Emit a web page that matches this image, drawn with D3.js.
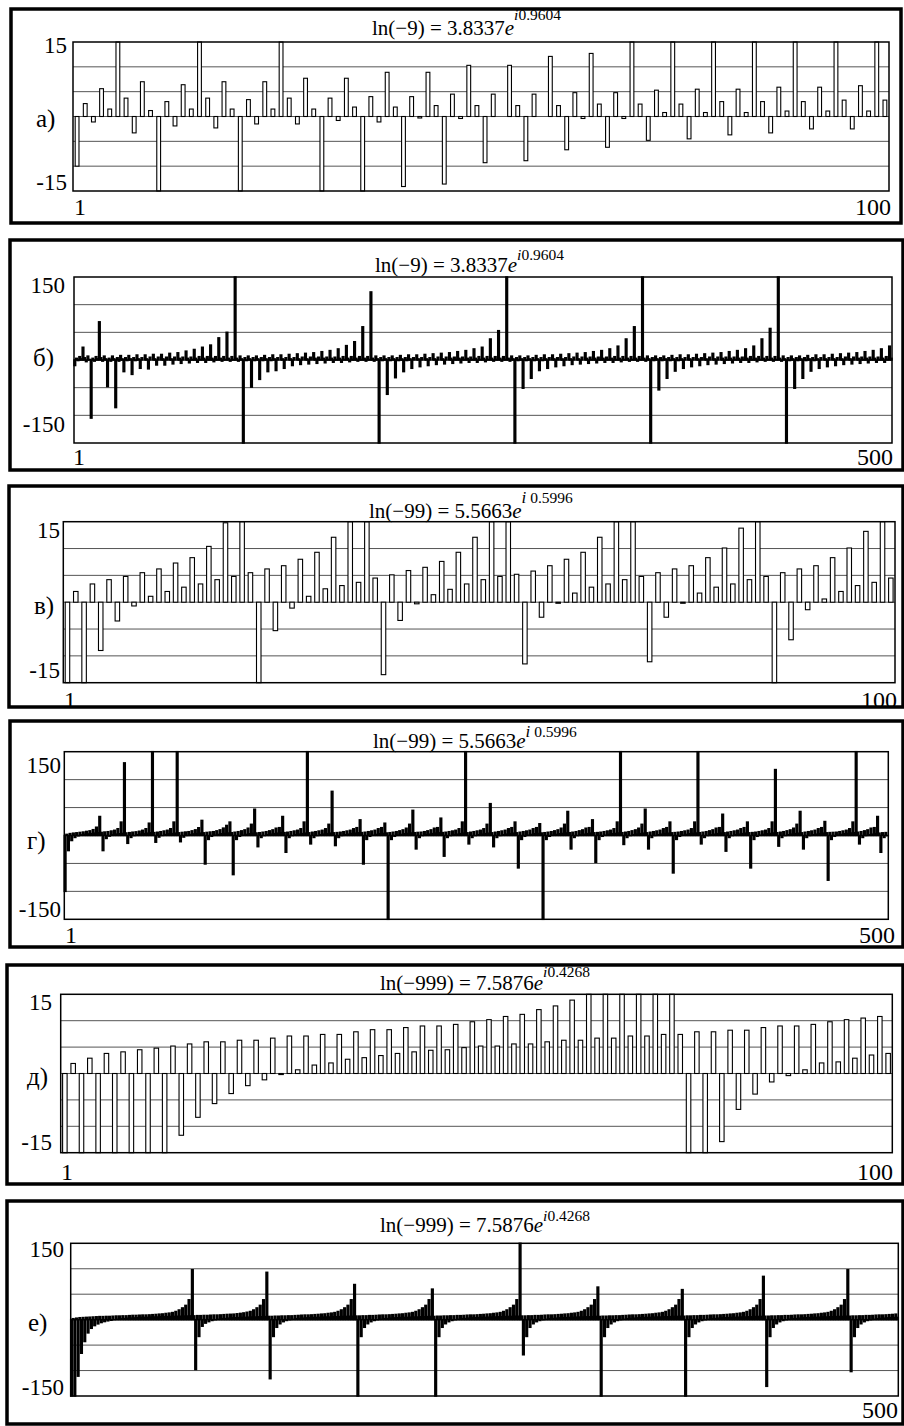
<!DOCTYPE html>
<html>
<head>
<meta charset="utf-8">
<script src="https://d3js.org/d3.v7.min.js"></script>
<style>
  body { margin: 0; background: #fff; }
  svg text { font-family: "Liberation Serif", "Times New Roman", serif; fill: #000; }
</style>
</head>
<body>
<div id="chart"></div>
<script>
// panel captions and formula pieces
const panelLetters = ["а)", "б)", "в)", "г)", "д)", "е)"];
const lnArgs = ["−9", "−9", "−99", "−99", "−999", "−999"];
const moduli = ["3.8337", "3.8337", "5.5663", "5.5663", "7.5876", "7.5876"];
const phases = ["0.9604", "0.9604", "0.5996", "0.5996", "0.4268", "0.4268"];
const yLimits = [15, 150, 15, 150, 15, 150];
const lastIndex = ["100", "500", "100", "500", "100", "500"];
const gridSmall = [-10, -5, 0, 5, 10];
const gridBig = [-100, -50, 0, 50, 100];

// a) first 100 terms, ln(-9)
const valsA = [-10,2.6,-1.1,5.6,1.5, 23,3.7,-3.3,7,1.2, -105,3,-1.9,6.4,1.5, 69,3.7,-2.3,7,1.5,
  -48,3.4,-1.5,7,1.5, 20,3.7,-1.5,7.7,1.5, -21,3.7,-0.8,7.7,1.9, -26,4,-1.1,8.9,1.9,
  -14.1,4,-0.3,8.9,2.2, -13.6,4.5,-0.4,10.3,2.2, -9.3,4.5,0,10.3,2.2, -8.9,4.5,0,12.1,2.2,
  -6.7,4.8,-0.4,12.7,2.5, -6.2,4.8,-0.4,16,2.5, -4.8,5.3,0.8,19,2.5, -4.5,5.5,0.8,23,3,
  -3.7,5.5,0.8,27,3, -3.3,5.9,1.1,40,3, -2.5,5.9,1.1,50,3.3, -2.5,6.2,1.1,200,3.3];

// б) 500 terms, ln(-9)
const valsB = [-10,3,-1,6,2, 23,4,-3,7,1, -105,3,-2,6,2, 69,4,-2,7,2, -48,3,-2,7,2,
  -86,4,-2,8,2, -21,4,-1,8,2, -26,4,-1,9,2, -15,4,0,9,2, -16,5,0,10,2,
  -9,5,0,10,2, -9,5,0,12,2, -7,5,0,13,3, -6,5,0,16,3, -5,5,1,19,3,
  -4,6,1,23,3, -4,6,1,27,3, -3,6,1,40,3, -2,6,1,50,3, -2,6,1,200,3,
  -2,7,2,-200,4, -1,7,2,-49,4, -1,7,2,-35,4, -1,8,2,-21,4, -1,9,2,-19,4,
  0,9,2,-15,4, 0,10,2,-10,4, 0,11,2,-8,5, 0,12,2,-7,5, 0,13,3,-6,5,
  1,15,3,-5,5, 1,17,3,-4,5, 1,20,3,-4,6, 1,26,3,-3,6, 1,33,3,-2,6,
  1,60,3,-2,6, 1,123,3,-2,7, 2,-200,4,-1,7, 2,-62,4,-1,7, 2,-32,4,-1,8,
  2,-21,4,-1,9, 2,-15,4,0,9, 2,-12,4,0,10, 2,-10,4,0,11, 2,-8,5,0,12,
  2,-7,5,0,13, 3,-6,5,1,15, 3,-5,5,1,17, 3,-4,5,1,20, 3,-4,6,1,23,
  3,-3,6,1,38, 3,-2,6,1,53, 3,-2,6,1,200, 3,-2,7,2,-200, 4,-1,7,2,-51,
  4,-1,7,2,-33, 4,-1,8,2,-19, 4,-1,9,2,-15, 4,0,9,2,-12, 4,0,10,2,-10,
  4,0,11,2,-8, 5,0,12,2,-7, 5,0,13,3,-6, 5,1,15,3,-5, 5,1,17,3,-4,
  5,1,20,3,-4, 6,1,25,3,-3, 6,1,38,3,-2, 6,1,60,3,-2, 6,1,200,3,-2,
  7,2,-200,4,-1, 7,2,-54,4,-1, 7,2,-33,4,-1, 8,2,-20,4,-1, 9,2,-15,4,0,
  9,2,-12,4,0, 10,2,-10,4,0, 11,2,-8,5,0, 12,2,-7,5,0, 13,3,-6,5,1,
  15,3,-5,5,1, 17,3,-4,5,1, 20,3,-4,6,1, 25,3,-3,6,1, 38,3,-2,6,1,
  57,3,-2,6,1, 200,3,-2,7,2, -200,4,-1,7,2, -51,4,-1,7,2, -33,4,-1,8,2,
  -20,4,-1,9,2, -15,4,0,9,2, -12,4,0,10,2, -10,4,0,11,2, -8,5,0,12,2,
  -7,5,0,13,3, -6,5,1,15,3, -5,5,1,17,3, -4,5,1,20,3, -4,6,1,25,3];

// в) first 100 terms, ln(-99)
const valsC = [-100,2,-27,3.4,-9,4.2,-3.5,4.8,-0.7,5.5,
  1.1,6.2,2,7.3,2.8,8.3,3.4,10.4,4.2,14.8,
  4.8,34,5.5,-27,6.2,-5.3,6.8,-1.1,8,1.1,
  9.3,2.5,12.1,3.1,24,3.7,130,4.5,-13.5,5.1,
  -3.4,5.9,-0.3,6.5,1.4,7.6,2.4,9.3,3.4,12.1,
  4.2,22,4.8,200,5.2,-11.5,5.8,-2.8,6.8,-0.2,
  8,1.7,9.3,2.8,12.1,3.4,24,4.2,200,4.8,
  -11.1,5.5,-2.8,6.2,-0.2,6.8,1.7,8.3,2.8,10.1,
  3.4,13.8,4.2,27,4.8,-51,5.5,-7,6.2,-1.4,
  6.8,0.6,8.3,2,10.1,3.1,13.2,3.7,18,4.5];

// г) 500 terms, ln(-99): odd terms 1,3,...,499 and even terms 2,4,...,500
const valsDOdd = [-100,-27,-9,-3.5,-0.7,1.1,2,2.8,3.4,4.2,4.8,5.5,6.2,6.8,8,9.3,12.1,24,130,
  -14,-3.4,-0.3,1.4,2.4,3.4,4.2,4.8,5.2,5.8,6.8,8,9.3,12.1,24,200,
  -11.1,-2.8,-0.2,1.7,2.8,3.4,4.2,4.8,5.5,6.2,6.8,8.3,10.1,13.2,18,24,-70,
  -7,-1.4,0.6,2,3.1,3.7,4.5,5,5.8,6.8,8.3,10,13,14,34,-30,
  -3.5,-0.3,1.4,2.4,3.4,4.2,4.8,5.8,6.8,8,9.3,12,20,79,-18,
  -3.5,-0.3,1.4,2.4,3.4,4.2,4.8,5.2,5.8,6.8,8,9.3,12,14,22,-200,
  -7,-1.4,0.6,2,3.1,3.7,4.5,5,5.5,5.8,6.8,8.3,10,13,14,31,-37,
  -3.5,-0.3,1.4,2.4,3.4,4.2,4.8,5.8,6.8,8,9.3,12,20,57,-20,
  -3.5,-0.3,1.4,2.4,3.4,4.2,4.8,5.8,6.8,8,9.3,12,14,21,-200,
  -7,-1.4,0.6,2,3.1,3.7,4.5,5,5.8,6.8,8.3,10,13,14,28,-48,
  -7,-1.4,0.6,2,3.1,3.7,4.5,5,5.8,6.8,8.3,10,13,20,47,-24,
  -3.5,-0.3,1.4,2.4,3.4,4.2,4.8,5.2,5.8,6.8,8,9.3,12,24,200,-15,
  -3.5,-0.3,1.4,2.4,3.4,4.2,4.8,5.8,6.8,8,9.3,12,14,24,-58,
  -7,-1.4,0.6,2,3.1,3.7,4.5,5,5.8,6.8,8.3,10,13,20,43,-24,
  -3.5,-0.3,1.4,2.4,3.4,4.2,4.8,5.2,5.5,5.8,6.8,8,9.3,12,24,200,-15,
  -3.5,-0.3,1.4,2.4,3.4,4.2,4.8,5.2];
const valsDEven = [2,3.4,4.2,4.8,5.5,6.2,7.3,8.3,10.4,14.8,34,-27,
  -5.3,-1.1,1.1,2.5,3.1,3.7,4.5,5.1,5.9,6.5,7.6,9.3,12.1,22,200,-12,
  -2.8,-0.2,1.7,2.8,3.4,4.2,4.8,5.5,6.2,6.8,8.3,10.1,13.8,27,-51,
  -7,-1.4,0.6,2,3.1,3.7,4.5,5,5.8,6.8,8.3,10,13,20,47,-20,
  -3.5,-0.3,1.4,2.4,3.4,4.2,4.8,5.2,5.8,6.8,8,9.3,12,24,200,-15,
  -3.5,-0.3,1.4,2.4,3.4,4.2,4.8,5.2,5.8,6.8,8,9.3,12,14,28,-51,
  -7,-1.4,0.6,2,3.1,3.7,4.5,5,5.8,6.8,8.3,10,13,20,45,-24,
  -3.5,-0.3,1.4,2.4,3.4,4.2,4.8,5.2,5.8,6.8,8,9.3,12,24,200,-15,
  -3.5,-0.3,1.4,2.4,3.4,4.2,4.8,5.8,6.8,8,9.3,12,14,24,-58,
  -7,-1.4,0.6,2,3.1,3.7,4.5,5,5.8,6.8,8.3,10,13,20,43,-24,
  -3.5,-0.3,1.4,2.4,3.4,4.2,4.8,5.2,5.8,6.8,8,9.3,12,24,200,-16,
  -3.5,-0.3,1.4,2.4,3.4,4.2,4.8,5.8,6.8,8,9.3,12,14,24,-67,
  -7,-1.4,0.6,2,3.1,3.7,4.5,5,5.8,6.8,8.3,10,13,14,38,-28,
  -3.5,-0.3,1.4,2.4,3.4,4.2,4.8,5.2,5.8,6.8,8,9.3,12,24,118,-19,
  -3.5,-0.3,1.4,2.4,3.4,4.2,4.8,5.8,6.8,8,9.3,12,14,25,-80,
  -7,-1.4,0.6,2,3.1,3.7,4.5,5,5.8,6.8,8.3,10,13,14,34,-30,
  -3.5,-0.3];

// д) first 100 terms, ln(-999)
const valsE = [-200,1.9,-160,2.9,-111,3.8,-66,4.1,-43,4.5,
  -26,4.8,-17,5.2,-11.7,5.6,-8.3,6,-5.7,6,
  -3.8,6.3,-2.3,6.3,-1.2,6.7,-0.2,7.1,0.7,7.1,
  1.6,7.4,2,7.4,2.7,7.9,3,8.3,3.4,8.3,
  3.8,8.7,4.1,9,4.4,9,4.5,9.3,4.9,9.8,
  5.2,10.2,5.2,10.8,5.6,11.2,5.6,12.1,6,12.8,
  6.3,13.9,6.3,16,6.7,19,6.7,23,7.1,28,
  7.1,39,7.4,98,7.4,-98,7.9,-33,7.9,-12.9,
  8.2,-6.8,8.2,-3.9,8.7,-1.6,9,-0.4,9,0.7,
  9.3,2,9.8,2.2,10.2,2.9,10.5,3.5,10.8,3.8];

// е) 500 terms, ln(-999): odd terms and even terms
const valsFOdd = [-200,-160,-111,-66,-43,-26,-17,
  -11.7,-8.3,-5.7,-3.8,-2.3,-1.2,-0.2,0.7,1.6,2,2.7,3,3.4,3.8,4.1,4.4,4.5,4.9,5.2,5.2,5.6,5.6,6,6.3,6.3,
  6.7,6.7,7.1,7.1,7.4,7.4,7.9,7.9,8.2,8.2,8.7,9,9,9.3,9.8,10.2,10.5,10.8,
  11.5,12.3,13.2,14.5,16,19,23,28,39,93,-116,
  -33,-15,-8,-4,-1.6,-0.4,0.7,2,2.2,2.9,3.5,3.8,4.1,4.4,4.5,4.9,5.2,5.2,5.6,5.6,6,6.3,6.3,6.7,6.7,
  7.1,7.1,7.4,7.4,7.9,7.9,8.2,8.7,9,9,9.3,9.8,10.2,10.8,11.2,12.1,12.8,13.9,16,19,23,28,39,60,
  -200,
  -33,-15,-8,-4,-1.6,-0.4,0.7,2,2.2,2.9,3.5,3.8,4.1,4.4,4.5,4.9,5.2,5.2,5.6,5.6,6,6.3,6.3,6.7,6.7,
  7.1,7.1,7.4,7.4,7.9,7.9,8.2,8.7,9,9,9.3,9.8,10.2,10.8,11.2,12.1,12.8,13.9,16,19,23,28,39,64,
  -200,
  -33,-15,-8,-4,-1.6,-0.4,0.7,2,2.2,2.9,3.5,3.8,4.1,4.4,4.5,4.9,5.2,5.2,5.6,5.6,6,6.3,6.3,6.7,6.7,
  7.1,7.1,7.4,7.4,7.9,7.9,8.2,8.7,9,9,9.3,9.8,10.2,10.8,11.2,12.1,12.8,13.9,16,19,23,28,39,85,
  -131,
  -33,-15,-8,-4,-1.6,-0.4,0.7,2,2.2,2.9,3.5,3.8,4.1,4.4,4.5,4.9,5.2,5.2,5.6,5.6,6,6.3,6.3,6.7,6.7,
  7.1,7.1,7.4,7.4,7.9,7.9,8.2,8.7,9,9,9.3,9.8,10.2,10.8];
const valsFEven = [1.9,2.9,3.8,4.1,4.5,4.8,5.2,5.6,6,6,6.3,6.3,6.7,7.1,7.1,7.4,7.4,7.9,8.3,8.3,
  8.7,9,9,9.3,9.8,10.2,10.8,11.2,12.1,12.8,13.9,
  16,19,23,28,39,98,-98,
  -33,-12.9,-6.8,-3.9,-1.6,-0.4,0.7,2,2.2,2.9,3.5,3.8,4.1,4.4,4.5,4.9,5.2,5.2,5.6,5.6,6,6.3,6.3,6.7,6.7,
  7.1,7.1,7.4,7.4,7.9,8.2,8.7,9,9,9.3,9.8,10.2,10.8,11.2,12.1,12.8,13.9,16,19,23,28,39,69,
  -150,
  -33,-15,-8,-4,-1.6,-0.4,0.7,2,2.2,2.9,3.5,3.8,4.1,4.4,4.5,4.9,5.2,5.2,5.6,5.6,6,6.3,6.3,6.7,6.7,
  7.1,7.1,7.4,7.4,7.9,7.9,8.2,8.7,9,9,9.3,9.8,10.2,10.8,11.2,12.1,12.8,13.9,16,19,23,28,39,200,
  -69,
  -33,-15,-8,-4,-1.6,-0.4,0.7,2,2.2,2.9,3.5,3.8,4.1,4.4,4.5,4.9,5.2,5.2,5.6,5.6,6,6.3,6.3,6.7,6.7,
  7.1,7.1,7.4,7.4,7.9,8.2,8.7,9,9,9.3,9.8,10.2,10.8,11.2,12.1,12.8,13.9,16,19,23,28,39,59,
  -200,
  -33,-15,-8,-4,-1.6,-0.4,0.7,2,2.2,2.9,3.5,3.8,4.1,4.4,4.5,4.9,5.2,5.2,5.6,5.6,6,6.3,6.3,6.7,6.7,
  7.1,7.1,7.4,7.4,7.9,7.9,8.2,8.7,9,9,9.3,9.8,10.2,10.8,11.2,12.1,12.8,13.9,16,19,23,28,39,98,
  -102,
  -33,-15,-8,-4,-1.6,-0.4,0.7,2,2.2,2.9,3.5,3.8,4.1,4.4];

// page layout of each boxed panel (pixels)
const layout = [
  {frame: [11, 9, 901, 223], plot: [73, 42, 889, 191], titleX: 372, titleY: 35, supRaise: 15,
   topY: 53, botY: 190, tickX: 67, letterX: 36, letterY: 127, idxY: 215, idxLeft: 74, idxRight: 891, hollow: true, barW: 3.8},
  {frame: [10, 240, 903, 470], plot: [74, 277, 892, 443], titleX: 375, titleY: 272, supRaise: 12,
   topY: 293, botY: 432, tickX: 65, letterX: 33, letterY: 366, idxY: 465, idxLeft: 73, idxRight: 893, hollow: false},
  {frame: [9, 486, 903, 707], plot: [63.3, 521.7, 895, 682.7], titleX: 369, titleY: 518, supRaise: 15,
   topY: 538, botY: 678, tickX: 60, letterX: 34, letterY: 614, idxY: 708, idxLeft: 64, idxRight: 897, hollow: true, barW: 4.5, spacedSup: true},
  {frame: [10, 721, 903, 947], plot: [64.3, 751.7, 888.3, 919.3], titleX: 373, titleY: 748, supRaise: 11,
   topY: 773, botY: 917, tickX: 61, letterX: 27, letterY: 849, idxY: 943, idxLeft: 65, idxRight: 895, hollow: false, spacedSup: true},
  {frame: [7, 965, 903, 1184], plot: [60.7, 994.3, 892.3, 1152.7], titleX: 380, titleY: 990, supRaise: 13,
   topY: 1010, botY: 1150, tickX: 52, letterX: 27, letterY: 1085, idxY: 1180, idxLeft: 61, idxRight: 893, hollow: true, barW: 4.5},
  {frame: [7, 1201, 903, 1424], plot: [70.7, 1243.3, 898.3, 1396], titleX: 380, titleY: 1232, supRaise: 11,
   topY: 1257, botY: 1395, tickX: 64, letterX: 28, letterY: 1331, idxY: 1418, idxLeft: null, idxRight: 898, hollow: false}
];

function interleave(odd, even) {
  const out = [];
  odd.forEach(function(v, j) { out.push(v, even[j]); });
  return out;
}

const series = [valsA, valsB, valsC, interleave(valsDOdd, valsDEven), valsE, interleave(valsFOdd, valsFEven)];

const svg = d3.select("#chart").append("svg")
  .attr("width", 904).attr("height", 1426);
svg.append("rect").attr("width", 904).attr("height", 1426).attr("fill", "#fff");

layout.forEach(function(L, p) {
  const vals = series[p], N = vals.length, lim = yLimits[p];
  const [fx0, fy0, fx1, fy1] = L.frame;
  const [px0, py0, px1, py1] = L.plot;

  const x = d3.scaleBand().domain(d3.range(1, N + 1)).range([px0, px1]);
  const y = d3.scaleLinear().domain([-lim, lim]).range([py1, py0]).clamp(true);
  const g = svg.append("g");

  // heavy outer box
  g.append("rect")
    .attr("x", fx0).attr("y", fy0).attr("width", fx1 - fx0).attr("height", fy1 - fy0)
    .attr("fill", "none").attr("stroke", "#000").attr("stroke-width", 3.5);

  // horizontal grid
  g.selectAll(".grid").data(lim === 15 ? gridSmall : gridBig).join("line")
    .attr("class", "grid")
    .attr("x1", px0).attr("x2", px1)
    .attr("y1", d => y(d)).attr("y2", d => y(d))
    .attr("stroke", "#555").attr("stroke-width", 1);

  // bars
  const bw = L.hollow ? L.barW : x.bandwidth();
  g.selectAll(".bar").data(vals).join("rect")
    .attr("class", "bar")
    .attr("x", (d, i) => x(i + 1) + x.bandwidth() / 2 - bw / 2)
    .attr("y", d => Math.min(y(d), y(0)))
    .attr("width", bw)
    .attr("height", d => Math.abs(y(d) - y(0)))
    .attr("fill", L.hollow ? "#fff" : "#000")
    .attr("stroke", "#000")
    .attr("stroke-width", L.hollow ? 1.1 : 1.5);

  // plot border
  g.append("rect")
    .attr("x", px0).attr("y", py0).attr("width", px1 - px0).attr("height", py1 - py0)
    .attr("fill", "none").attr("stroke", "#000").attr("stroke-width", 1.5);

  // limit labels, panel letter, index range
  g.append("text").attr("x", L.tickX).attr("y", L.topY).attr("text-anchor", "end")
    .style("font-size", "23px").text(String(lim));
  g.append("text").attr("x", L.tickX).attr("y", L.botY).attr("text-anchor", "end")
    .style("font-size", "23px").text("-" + lim);
  g.append("text").attr("x", L.letterX).attr("y", L.letterY)
    .style("font-size", "25px").text(panelLetters[p]);
  if (L.idxLeft !== null) {
    g.append("text").attr("x", L.idxLeft).attr("y", L.idxY)
      .style("font-size", "24px").text("1");
  }
  g.append("text").attr("x", L.idxRight).attr("y", L.idxY).attr("text-anchor", "end")
    .style("font-size", "24px").text(lastIndex[p]);

  // formula title
  const t = g.append("text").attr("x", L.titleX).attr("y", L.titleY).style("font-size", "21px");
  t.append("tspan").text("ln(" + lnArgs[p] + ") = " + moduli[p]);
  t.append("tspan").style("font-style", "italic").text("e");
  t.append("tspan").attr("dy", -L.supRaise).style("font-size", L.spacedSup ? "17px" : "15.5px")
    .style("font-style", "italic").text("i");
  t.append("tspan").style("font-size", "15.5px").text((L.spacedSup ? "\u00a0" : "") + phases[p]);
});
</script>
</body>
</html>
